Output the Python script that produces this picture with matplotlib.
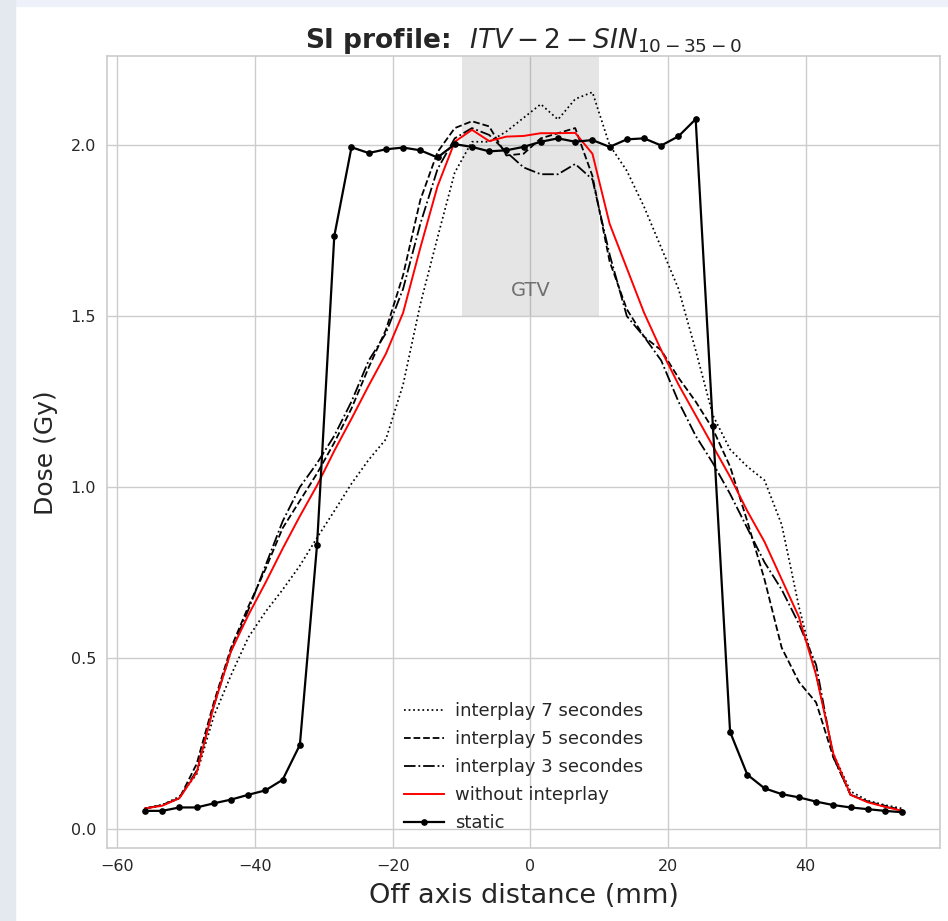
import matplotlib
matplotlib.use("Agg")
import matplotlib.pyplot as plt
from matplotlib.patches import Rectangle

# ---------------- data ----------------
x_mm = [-56, -53.5, -51, -48.5, -46, -43.5, -41, -38.5, -36, -33.5,
        -31, -28.5, -26, -23.5, -21, -18.5, -16, -13.5, -11, -8.5,
        -6, -3.5, -1, 1.5, 4, 6.5, 9, 11.5, 14, 16.5,
        19, 21.5, 24, 26.5, 29, 31.5, 34, 36.5, 39, 41.5,
        44, 46.5, 49, 51.5, 54]

interplay_7s = [0.06, 0.07, 0.095, 0.16, 0.33, 0.45, 0.56, 0.635, 0.70, 0.77,
                0.852, 0.93, 1.01, 1.08, 1.14, 1.30, 1.535, 1.73, 1.92, 2.01,
                2.01, 2.04, 2.08, 2.12, 2.075, 2.135, 2.155, 2.00, 1.925, 1.82,
                1.70, 1.58, 1.40, 1.21, 1.11, 1.06, 1.02, 0.89, 0.65, 0.45,
                0.22, 0.11, 0.083, 0.07, 0.06]

interplay_5s = [0.06, 0.07, 0.09, 0.19, 0.37, 0.53, 0.65, 0.76, 0.88, 0.96,
                1.04, 1.13, 1.23, 1.35, 1.46, 1.62, 1.84, 1.98, 2.05, 2.07,
                2.055, 1.97, 1.975, 2.02, 2.035, 2.05, 1.91, 1.66, 1.52, 1.44,
                1.40, 1.32, 1.25, 1.17, 1.06, 0.90, 0.73, 0.53, 0.43, 0.37,
                0.21, 0.10, 0.08, 0.068, 0.055]

interplay_3s = [0.06, 0.07, 0.09, 0.17, 0.36, 0.52, 0.64, 0.77, 0.90, 1.00,
                1.07, 1.15, 1.25, 1.37, 1.45, 1.58, 1.77, 1.93, 2.02, 2.05,
                2.03, 1.98, 1.935, 1.915, 1.915, 1.945, 1.90, 1.68, 1.50, 1.44,
                1.37, 1.25, 1.15, 1.07, 0.98, 0.88, 0.78, 0.70, 0.60, 0.48,
                0.21, 0.10, 0.08, 0.065, 0.055]

without_interplay = [0.06, 0.068, 0.09, 0.165, 0.36, 0.52, 0.625, 0.72, 0.82, 0.915,
                     1.005, 1.106, 1.20, 1.297, 1.39, 1.51, 1.70, 1.88, 2.01, 2.045,
                     2.012, 2.025, 2.027, 2.035, 2.035, 2.036, 1.975, 1.77, 1.64, 1.51,
                     1.40, 1.30, 1.21, 1.12, 1.03, 0.93, 0.84, 0.73, 0.62, 0.45,
                     0.22, 0.10, 0.078, 0.065, 0.053]

static = [0.053, 0.053, 0.063, 0.063, 0.075, 0.086, 0.10, 0.113, 0.144, 0.246,
          0.832, 1.734, 1.994, 1.977, 1.988, 1.993, 1.985, 1.964, 2.003, 1.995,
          1.982, 1.985, 1.995, 2.010, 2.020, 2.010, 2.015, 1.995, 2.017, 2.020,
          1.999, 2.026, 2.076, 1.178, 0.284, 0.159, 0.119, 0.102, 0.0925, 0.080,
          0.070, 0.063, 0.058, 0.053, 0.049]

labels = ["interplay 7 secondes", "interplay 5 secondes", "interplay 3 secondes",
          "without inteprlay", "static"]
gtv_range = (-10, 10)
gtv_floor = 1.5
x_ticks = [-60, -40, -20, 0, 20, 40]
y_ticks = [0.0, 0.5, 1.0, 1.5, 2.0]

# ---------------- style ----------------
plt.rcParams['font.family'] = ['DejaVu Sans']
text_col = '#262626'
grid_col = '#cccccc'

fig = plt.figure(figsize=(9.48, 9.21), dpi=100)
fig.patch.set_facecolor('white')
# screenshot border (light blue strip on top and left)
fig.patches.append(Rectangle((0, 0.994), 1, 0.006, transform=fig.transFigure,
                             color='#edf2fa', zorder=-10))
fig.patches.append(Rectangle((0, 0), 0.016, 1, transform=fig.transFigure,
                             color='#e4e9f0', zorder=-10))

ax = fig.add_axes([0.113, 0.079, 0.8786, 0.860])
ax.set_facecolor('white')
ax.set_axisbelow(True)
ax.grid(True, color=grid_col, lw=1.0)
for s in ax.spines.values():
    s.set_color(grid_col)
    s.set_linewidth(1.2)

ax.plot(x_mm, interplay_7s, ls=':', color='k', lw=1.25, label=labels[0])
ax.plot(x_mm, interplay_5s, ls='--', color='k', lw=1.3, label=labels[1])
ax.plot(x_mm, interplay_3s, ls='-.', color='k', lw=1.3, label=labels[2])
ax.plot(x_mm, without_interplay, ls='-', color='red', lw=1.4, label=labels[3])
ax.plot(x_mm, static, ls='-', color='k', lw=1.6, marker='o', markersize=3.8,
        label=labels[4])

ax.margins(x=0.05, y=0.05)
ax.autoscale_view()
y0, y1 = ax.get_ylim()
ax.set_ylim(y0, y1)
ax.axvspan(gtv_range[0], gtv_range[1], ymin=(gtv_floor - y0) / (y1 - y0), ymax=1,
           color='gray', alpha=0.2, lw=0, zorder=0.8)
ax.text(0, 1.575, 'GTV', ha='center', va='center', fontsize=14, color='#707070')

ax.set_xticks(x_ticks)
ax.set_yticks(y_ticks)
ax.tick_params(axis='both', length=0, labelsize=11.5, labelcolor=text_col, pad=8)

ax.set_xlabel('Off axis distance (mm)', fontsize=19.5, color=text_col, labelpad=6)
ax.set_ylabel('Dose (Gy)', fontsize=18, color=text_col, labelpad=9)
ax.set_title(r'SI profile:  $ITV-2-SIN_{10-35-0}$', fontsize=19, fontweight='bold',
             color=text_col, pad=5)

leg = ax.legend(loc='lower center', frameon=False, fontsize=13, labelspacing=0.55,
                handlelength=2.2, handletextpad=0.65)
for t in leg.get_texts():
    t.set_color(text_col)

fig.savefig('out.png', dpi=100, facecolor=fig.get_facecolor())
